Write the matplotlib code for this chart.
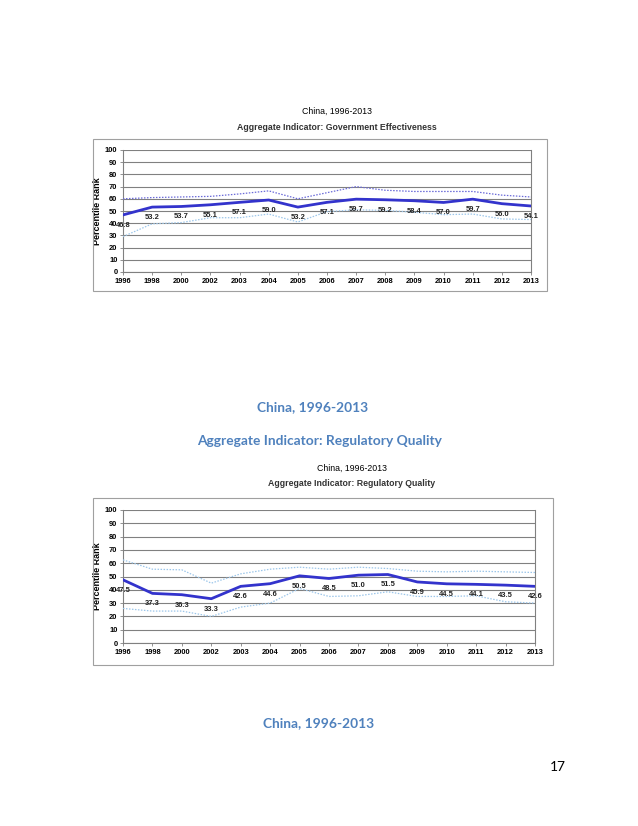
"""
Worldwide Governance Indicators page: China 1996-2013 percentile ranks.
"""

import matplotlib
matplotlib.use('Agg')
import matplotlib.pyplot as plt
from matplotlib.patches import Rectangle

years = ['1996', '1998', '2000', '2002', '2003', '2004', '2005', '2006',
         '2007', '2008', '2009', '2010', '2011', '2012', '2013']

# Government Effectiveness
ge_rank = [46.8, 53.2, 53.7, 55.1, 57.1, 59.0, 53.2, 57.1,
           59.7, 59.2, 58.4, 57.0, 59.7, 56.0, 54.1]
ge_upper = [60.0, 61.0, 61.5, 62.0, 64.0, 66.5, 60.0, 65.0,
            70.0, 67.0, 66.0, 66.0, 66.0, 63.0, 61.5]
ge_lower = [29.0, 39.5, 40.5, 44.5, 44.5, 47.5, 41.0, 49.5,
            51.0, 50.5, 49.0, 47.0, 47.5, 43.5, 43.0]

# Regulatory Quality
rq_rank = [47.5, 37.3, 36.3, 33.3, 42.6, 44.6, 50.5, 48.5,
           51.0, 51.5, 45.9, 44.5, 44.1, 43.5, 42.6]
rq_upper = [62.5, 55.5, 55.0, 45.0, 52.0, 55.5, 57.0, 55.5,
            57.0, 56.0, 54.0, 53.5, 54.0, 53.5, 53.0]
rq_lower = [26.0, 24.0, 24.0, 20.0, 27.0, 30.0, 41.0, 35.0,
            35.5, 38.5, 35.0, 35.0, 35.5, 31.0, 30.0]

W, H = 638, 826
page_blue = '#4F81BD'
main_col = '#3333CC'

fig = plt.figure(figsize=(W / 100, H / 100), dpi=100)
fig.patch.set_facecolor('white')


def fx(px):
    return px / W


def fy(py):
    return 1 - py / H


def box(x0, y0, x1, y1):
    fig.patches.append(Rectangle((fx(x0), fy(y1)), fx(x1) - fx(x0), fy(y0) - fy(y1),
                                 transform=fig.transFigure, fill=False,
                                 edgecolor='#A0A0A0', lw=0.8))


def chart(rect, rank, upper, lower, upper_col, lower_col):
    ax = fig.add_axes(rect)
    x = list(range(len(years)))
    ax.plot(x, upper, color=upper_col, lw=0.9, ls=(0, (1.2, 1.2)), zorder=3)
    ax.plot(x, lower, color=lower_col, lw=0.9, ls=(0, (1.2, 1.2)), zorder=3)
    ax.plot(x, rank, color=main_col, lw=2.0, zorder=4)
    for xi, v in zip(x, rank):
        ax.annotate(f'{v:.1f}', (xi, v), xytext=(0, -7.5), textcoords='offset points',
                    ha='center', va='center', fontsize=5.4, fontweight='bold',
                    family='Liberation Sans', color='#222222', zorder=5)
    ax.set_xlim(0, len(years) - 1)
    ax.set_ylim(0, 100)
    ax.set_yticks(range(0, 101, 10))
    ax.set_xticks(x)
    ax.set_xticklabels(years)
    ax.yaxis.grid(True, color='#808080', lw=0.8)
    ax.set_axisbelow(True)
    for s in ['left', 'bottom', 'right', 'top']:
        ax.spines[s].set_color('#808080')
        ax.spines[s].set_linewidth(0.8)
    ax.spines['top'].set_visible(False)
    ax.tick_params(axis='both', length=2.5, width=0.6, color='#808080', pad=1.5,
                   labelsize=5.4)
    for lab in ax.get_xticklabels() + ax.get_yticklabels():
        lab.set_fontweight('bold')
        lab.set_family('Liberation Sans')
    ax.set_ylabel('Percentile Rank', fontsize=6.5, fontweight='bold',
                  family='Liberation Sans', labelpad=2)
    return ax


# Chart 1: Government Effectiveness
box(93, 139, 547, 291)
fig.text(fx(337), fy(111), 'China, 1996-2013', ha='center', va='center',
         fontsize=6.3, family='Liberation Sans')
fig.text(fx(337), fy(127), 'Aggregate Indicator: Government Effectiveness',
         ha='center', va='center', fontsize=6.3, fontweight='bold',
         family='Liberation Sans', color='#333333')
chart([fx(123), fy(272), fx(531) - fx(123), fy(150) - fy(272)],
      ge_rank, ge_upper, ge_lower, '#6A6AD8', '#9CC6EA')

# Page captions
fig.text(fx(313), fy(407), 'China, 1996-2013', ha='center', va='center',
         fontsize=9.9, family='Lato', fontweight='bold', color=page_blue)
fig.text(fx(320), fy(441), 'Aggregate Indicator: Regulatory Quality',
         ha='center', va='center', fontsize=9.9, family='Lato',
         fontweight='bold', color=page_blue)

# Chart 2: Regulatory Quality
box(93, 498, 553, 665)
fig.text(fx(352), fy(468), 'China, 1996-2013', ha='center', va='center',
         fontsize=6.3, family='Liberation Sans')
fig.text(fx(352), fy(484), 'Aggregate Indicator: Regulatory Quality',
         ha='center', va='center', fontsize=6.3, fontweight='bold',
         family='Liberation Sans', color='#333333')
chart([fx(123), fy(643), fx(535) - fx(123), fy(510) - fy(643)],
      rq_rank, rq_upper, rq_lower, '#9CC6EA', '#9CC6EA')

fig.text(fx(319), fy(723), 'China, 1996-2013', ha='center', va='center',
         fontsize=9.9, family='Lato', fontweight='bold', color=page_blue)
fig.text(fx(558), fy(767), '17', ha='center', va='center',
         fontsize=9.9, family='Lato', color='black')

fig.savefig('out.png', dpi=100)
